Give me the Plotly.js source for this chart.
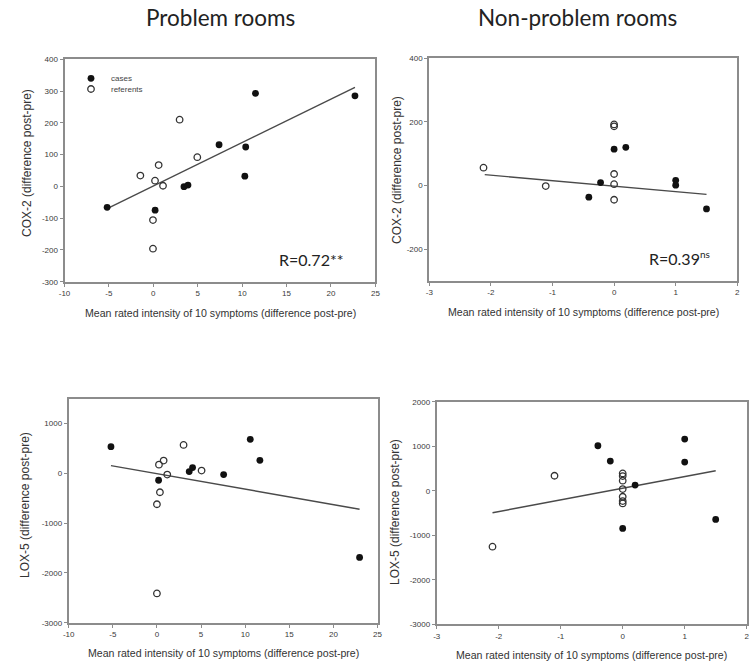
<!DOCTYPE html>
<html>
<head>
<meta charset="utf-8">
<script src="https://cdn.plot.ly/plotly-3.0.1.min.js"></script>
<style>
  html, body { margin: 0; padding: 0; background: #fff; }
  #chart { width: 750px; height: 663px; }
</style>
</head>
<body>
<div id="chart"></div>
<script>
// ---- Problem rooms: COX-2 vs symptom change ----
const p1CasesX = [-5.2, 0.2, 3.45, 3.9, 7.4, 10.3, 10.4, 11.5, 22.7];
const p1CasesY = [-66, -75, -1, 4, 131, 32, 124, 293, 285];
const p1RefX = [-1.46, 0.19, 0.6, 1.09, 2.96, 4.95, -0.04, -0.04];
const p1RefY = [34, 18, 67, 2, 210, 92, -106, -196];
const p1FitX = [-5.2, 22.7];
const p1FitY = [-70, 312];

// ---- Non-problem rooms: COX-2 vs symptom change ----
const p2CasesX = [-0.41, -0.22, 0, 0.19, 1, 1, 1.5];
const p2CasesY = [-37, 9, 114, 120, 16, 1, -74];
const p2RefX = [-2.12, -1.11, 0, 0, 0, 0, 0];
const p2RefY = [56, -2, 192, 186, 36, 4, -45];
const p2FitX = [-2.1, 1.5];
const p2FitY = [34, -28];

// ---- Problem rooms: LOX-5 vs symptom change ----
const p3CasesX = [-5.21, 0.19, 3.66, 4.04, 7.56, 10.58, 11.67, 22.97];
const p3CasesY = [538, -137, 37, 117, -23, 686, 264, -1689];
const p3RefX = [0.23, 0.76, 1.17, 3.02, 5.06, 0.34, 0, 0];
const p3RefY = [177, 258, -23, 572, 57, -378, -619, -2411];
const p3FitX = [-5.21, 22.97];
const p3FitY = [157, -719];

// ---- Non-problem rooms: LOX-5 vs symptom change ----
const p4CasesX = [-0.40, -0.20, 0, 0.20, 1.0, 1.0, 1.5];
const p4CasesY = [1010, 666, -846, 127, 1160, 644, -644];
const p4RefX = [-1.10, -2.10, 0, 0, 0, 0, 0, 0, 0];
const p4RefY = [337, -1257, 389, 329, 225, 37, -135, -232, -284];
const p4FitX = [-2.1, 1.5];
const p4FitY = [-494, 449];

// ---- axis ticks ----
const xTicksProblem = [-10, -5, 0, 5, 10, 15, 20, 25];
const xTicksNonProblem = [-3, -2, -1, 0, 1, 2];
const yTicksCox1 = [-300, -200, -100, 0, 100, 200, 300, 400];
const yTicksCox2 = [-200, 0, 200, 400];
const yTicksLox1 = [-3000, -2000, -1000, 0, 1000];
const yTicksLox2 = [-3000, -2000, -1000, 0, 1000, 2000];

const xTitle = 'Mean rated intensity of 10 symptoms (difference post-pre)';
const coxTitle = 'COX-2 (difference post-pre)';
const loxTitle = 'LOX-5 (difference post-pre)';

const W = 750, H = 663;
const px = v => v / W;
const py = v => 1 - v / H;

const caseMarker = { symbol: 'circle', size: 6.8, color: '#111', line: { width: 0 } };
const refMarker = { symbol: 'circle-open', size: 6.5, color: '#333', line: { width: 1.3 } };
const fitLine = { color: '#4a4a4a', width: 1.4 };

function panel(n, cx, cy, rx, ry, fx, fy, legendOn) {
  const xa = n === 1 ? 'x' : 'x' + n;
  const ya = n === 1 ? 'y' : 'y' + n;
  return [
    { type: 'scatter', mode: 'lines', x: fx, y: fy, xaxis: xa, yaxis: ya,
      line: fitLine, showlegend: false, hoverinfo: 'skip' },
    { type: 'scatter', mode: 'markers', name: 'cases', x: cx, y: cy, xaxis: xa, yaxis: ya,
      marker: caseMarker, showlegend: legendOn, legend: 'legend' },
    { type: 'scatter', mode: 'markers', name: 'referents', x: rx, y: ry, xaxis: xa, yaxis: ya,
      marker: refMarker, showlegend: legendOn, legend: 'legend2' }
  ];
}

const data = [].concat(
  panel(1, p1CasesX, p1CasesY, p1RefX, p1RefY, p1FitX, p1FitY, true),
  panel(2, p2CasesX, p2CasesY, p2RefX, p2RefY, p2FitX, p2FitY, false),
  panel(3, p3CasesX, p3CasesY, p3RefX, p3RefY, p3FitX, p3FitY, false),
  panel(4, p4CasesX, p4CasesY, p4RefX, p4RefY, p4FitX, p4FitY, false)
);

const tickFont = { family: 'Liberation Sans, Arial, sans-serif', size: 8, color: '#3a3a3a' };

function axis(left, right, range, ticks, anchor) {
  return {
    domain: [px(left), px(right)], range: range, anchor: anchor,
    tickmode: 'array', tickvals: ticks, ticktext: ticks.map(String),
    showline: true, mirror: true, linecolor: '#8c8c8c', linewidth: 2,
    ticks: 'outside', ticklen: 3, tickwidth: 1, tickcolor: '#8c8c8c',
    showgrid: false, zeroline: false, tickfont: tickFont, fixedrange: true
  };
}
function yaxis(top, bottom, range, ticks, anchor) {
  const a = axis(0, 1, range, ticks, anchor);
  a.domain = [py(bottom), py(top)];
  return a;
}

const xTitleFont = { family: 'Liberation Sans, Arial, sans-serif', size: 10.6, color: '#333' };
const yTitleFont = { family: 'Liberation Sans, Arial, sans-serif', size: 12, color: '#333' };
const headFont = { family: 'Lato, Open Sans, sans-serif', size: 22.5, color: '#222' };
const rFont = { family: 'Lato, Open Sans, sans-serif', size: 16, color: '#222' };
const legendFont = { family: 'Liberation Sans, Arial, sans-serif', size: 8, color: '#444' };

function note(text, x, y, font, extra) {
  return Object.assign({ text: text, xref: 'paper', yref: 'paper', x: px(x), y: py(y),
    xanchor: 'center', yanchor: 'middle', showarrow: false, font: font }, extra || {});
}

const layout = {
  width: W, height: H,
  margin: { l: 0, r: 0, t: 0, b: 0 },
  paper_bgcolor: '#fff', plot_bgcolor: '#fff',
  showlegend: true,
  hovermode: false,
  xaxis: axis(64.5, 375.4, [-10, 25], xTicksProblem, 'y'),
  yaxis: yaxis(59.3, 281.7, [-300, 400], yTicksCox1, 'x'),
  xaxis2: axis(429.3, 737.3, [-3, 2], xTicksNonProblem, 'y2'),
  yaxis2: yaxis(58.3, 280.8, [-300, 400], yTicksCox2, 'x2'),
  xaxis3: axis(68.7, 377.5, [-10, 25], xTicksProblem, 'y3'),
  yaxis3: yaxis(398.8, 622.7, [-3000, 1500], yTicksLox1, 'x3'),
  xaxis4: axis(436.7, 746.7, [-3, 2], xTicksNonProblem, 'y4'),
  yaxis4: yaxis(401.7, 624.3, [-3000, 2000], yTicksLox2, 'x4'),
  legend: { x: px(71), y: py(78.3), xanchor: 'left', yanchor: 'middle',
    font: legendFont, bgcolor: 'rgba(0,0,0,0)', borderwidth: 0 },
  legend2: { x: px(71), y: py(89), xanchor: 'left', yanchor: 'middle',
    font: legendFont, bgcolor: 'rgba(0,0,0,0)', borderwidth: 0 },
  annotations: [
    note('Problem rooms', 220, 17, headFont),
    note('Non-problem rooms', 577, 17, headFont),
    note('R=0.72**', 311, 260, rFont),
    note('R=0.39<sup><span style="font-size:10px">ns</span></sup>', 647, 258, rFont, { xanchor: 'left' }),
    note(xTitle, 220, 313, xTitleFont),
    note(xTitle, 583, 312, xTitleFont),
    note(xTitle, 223, 653, xTitleFont),
    note(xTitle, 591, 655, xTitleFont),
    note(coxTitle, 27, 163, yTitleFont, { textangle: -90 }),
    note(coxTitle, 397, 170, yTitleFont, { textangle: -90 }),
    note(loxTitle, 25, 505, yTitleFont, { textangle: -90 }),
    note(loxTitle, 395, 512, yTitleFont, { textangle: -90 })
  ]
};

Plotly.newPlot('chart', data, layout, { displayModeBar: false, staticPlot: true });
</script>
</body>
</html>
